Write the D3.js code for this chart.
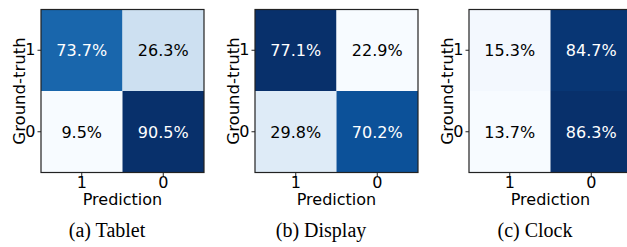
<!DOCTYPE html>
<html>
<head>
<meta charset="utf-8">
<script src="https://cdn.jsdelivr.net/npm/d3@7"></script>
<style>
    body { margin: 0; background: #fff; }
    svg { display: block; }
</style>
</head>
<body>
<script>
'use strict';

// axis categories (same order on both axes)
const predLabels = ["1", "0"];
const truthLabels = ["1", "0"];

// confusion matrices in percent, rows = ground-truth, cols = prediction
const tabletValues = [[73.7, 26.3], [9.5, 90.5]];
const displayValues = [[77.1, 22.9], [29.8, 70.2]];
const clockValues = [[15.3, 84.7], [13.7, 86.3]];

const captions = ["(a) Tablet", "(b) Display", "(c) Clock"];

(function () {

    let svgContainer = "";
    const panelLeft = [41, 255, 469];
    const top = 9.5;
    const size = 163;

    window.onload = function () {
        svgContainer = d3.select('body')
            .append('svg')
            .attr('width', 627)
            .attr('height', 247);

        let matrices = [tabletValues, displayValues, clockValues];
        matrices.forEach((m, i) => drawMatrix(m, panelLeft[i], captions[i]));
    }

    // draw one confusion matrix with axes, labels and caption
    function drawMatrix(values, left, caption) {
        let g = svgContainer.append('g')
            .attr('transform', 'translate(' + left + ',' + top + ')');

        let xScale = d3.scaleBand().domain(predLabels).range([0, size]);
        let yScale = d3.scaleBand().domain(truthLabels).range([0, size]);

        // colour normalised per panel like matplotlib imshow
        let flat = values.flat();
        let lo = d3.min(flat), hi = d3.max(flat);
        let color = d3.scaleSequential(d3.interpolateBlues).domain([lo, hi]);

        let cells = [];
        truthLabels.forEach((t, r) => {
            predLabels.forEach((p, c) => {
                cells.push({ truth: t, pred: p, value: values[r][c] });
            });
        });

        g.selectAll('.cell')
            .data(cells)
            .enter()
            .append('rect')
            .attr('x', (d) => xScale(d.pred))
            .attr('y', (d) => yScale(d.truth))
            .attr('width', xScale.bandwidth())
            .attr('height', yScale.bandwidth())
            .attr('fill', (d) => color(d.value));

        g.selectAll('.val')
            .data(cells)
            .enter()
            .append('text')
            .attr('x', (d) => xScale(d.pred) + xScale.bandwidth() / 2)
            .attr('y', (d) => yScale(d.truth) + yScale.bandwidth() / 2)
            .attr('dy', '0.36em')
            .attr('text-anchor', 'middle')
            .style('font-family', 'DejaVu Sans')
            .style('font-size', '16px')
            .attr('fill', (d) => (d.value - lo) / (hi - lo) > 0.5 ? '#fff' : '#000')
            .text((d) => d.value.toFixed(1) + '%');

        // frame
        g.append('rect')
            .attr('width', size)
            .attr('height', size)
            .attr('fill', 'none')
            .attr('stroke', '#222')
            .attr('stroke-width', 1.2);

        let xAxis = d3.axisBottom(xScale).tickSize(3.5).tickSizeOuter(0).tickPadding(1);
        let xg = g.append('g')
            .attr('transform', 'translate(0,' + size + ')')
            .call(xAxis);

        let yAxis = d3.axisLeft(yScale).tickSize(3.5).tickSizeOuter(0).tickPadding(2);
        let yg = g.append('g').call(yAxis);

        [xg, yg].forEach((a) => {
            a.select('.domain').remove();
            a.selectAll('line').attr('stroke', '#222');
            a.selectAll('text')
                .style('font-family', 'DejaVu Sans')
                .style('font-size', '16px')
                .attr('fill', '#000');
        });

        // axis titles
        g.append('text')
            .attr('x', size / 2)
            .attr('y', 195.5)
            .attr('text-anchor', 'middle')
            .style('font-family', 'DejaVu Sans')
            .style('font-size', '16px')
            .text('Prediction');

        g.append('text')
            .attr('transform', 'translate(-16,' + size / 2 + ')rotate(-90)')
            .attr('text-anchor', 'middle')
            .style('font-family', 'DejaVu Sans')
            .style('font-size', '16.5px')
            .text('Ground-truth');

        // caption under the subfigure
        g.append('text')
            .attr('x', 66)
            .attr('y', 227.5)
            .attr('text-anchor', 'middle')
            .style('font-family', 'Liberation Serif')
            .style('font-size', '20px')
            .text(caption);
    }

})();
</script>
</body>
</html>
